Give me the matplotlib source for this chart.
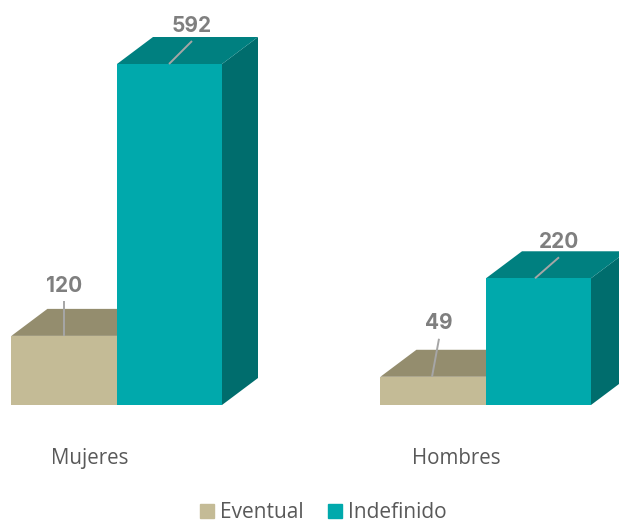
import matplotlib
matplotlib.use("Agg")
import matplotlib.pyplot as plt
from matplotlib.patches import Patch

categories = ["Mujeres", "Hombres"]
series_names = ["Eventual", "Indefinido"]
eventual = [120, 49]
indefinido = [592, 220]

W, H = 619, 522
BASE = 405
PX_PER_UNIT = 341 / 592
X0, DX = 117, 369
BAR_PX = 105
DEPTH_X, DEPTH_Y = 36, 27

tan_front, tan_top = "#C4BB96", "#948D6E"
teal_front, teal_top, teal_side = "#00A9AC", "#008080", "#006D6D"
label_c, leader_c, text_c = "#7F7F7F", "#A6A6A6", "#595959"

fig = plt.figure(figsize=(W / 100, H / 100), dpi=100)
ax = fig.add_axes([0, 1 - BASE / H, 1, BASE / H])
ax.set_xlim(-X0 / DX, (W - X0) / DX)
ax.set_ylim(0, BASE / PX_PER_UNIT)
for s in ax.spines.values():
    s.set_visible(False)
ax.set_yticks([])

dx = lambda p: p / DX
dy = lambda p: p / PX_PER_UNIT
bw = dx(BAR_PX)
ddx, ddy = dx(DEPTH_X), dy(DEPTH_Y)


def box(left, width, value, front, top, side):
    r = left + width
    ax.fill([r, r + ddx, r + ddx, r], [0, ddy, value + ddy, value], color=side, lw=0, zorder=2)
    ax.fill([left, left + ddx, r + ddx, r], [value, value + ddy, value + ddy, value],
            color=top, lw=0, zorder=2)
    ax.bar(left, value, width=width, align="edge", color=front, lw=0, zorder=3)


tan_w = dx(105.6)
for i in range(len(categories)):
    box(i - tan_w, tan_w, eventual[i], tan_front, tan_top, tan_top)
for i in range(len(categories)):
    box(float(i), bw, indefinido[i], teal_front, teal_top, teal_side)

# label anchors: (bar, value, leader start dx, leader end dx, leader rise, label rise)
labels = [
    (0 - bw, eventual[0], 52, 52, 35, 50),
    (0.0, indefinido[0], 52, 75, 23, 38),
    (1 - bw, eventual[1], 51, 58, 38, 54),
    (1.0, indefinido[1], 49, 73, 21, 36),
]
for left, v, a, b, rise, trise in labels:
    ax.plot([left + dx(a), left + dx(b)], [v, v + dy(rise)], color=leader_c, lw=1.4,
            zorder=4, clip_on=False, solid_capstyle="butt")
    ax.text(left + dx(b), v + dy(trise), str(v), ha="center", va="center", color=label_c,
            fontsize=15, family="Inter", fontweight="bold", zorder=5, clip_on=False)

ax.set_xticks([dx(90 - X0), 1 + dx(456 - 486)])
ax.set_xticklabels(categories, family="Open Sans", fontsize=14.8, color=text_c)
ax.tick_params(axis="x", length=0, pad=31)

handles = [Patch(color=tan_front, label=series_names[0]), Patch(color=teal_front, label=series_names[1])]
fig.legend(handles=handles, loc="center", bbox_to_anchor=(323.5 / W, 1 - 513 / H), ncol=2, frameon=False,
           prop={"family": "Open Sans", "size": 15}, labelcolor=text_c, handlelength=0.67,
           handleheight=0.67, handletextpad=0.29, columnspacing=1.15, borderpad=0, borderaxespad=0)

fig.savefig("out.png", dpi=100)
